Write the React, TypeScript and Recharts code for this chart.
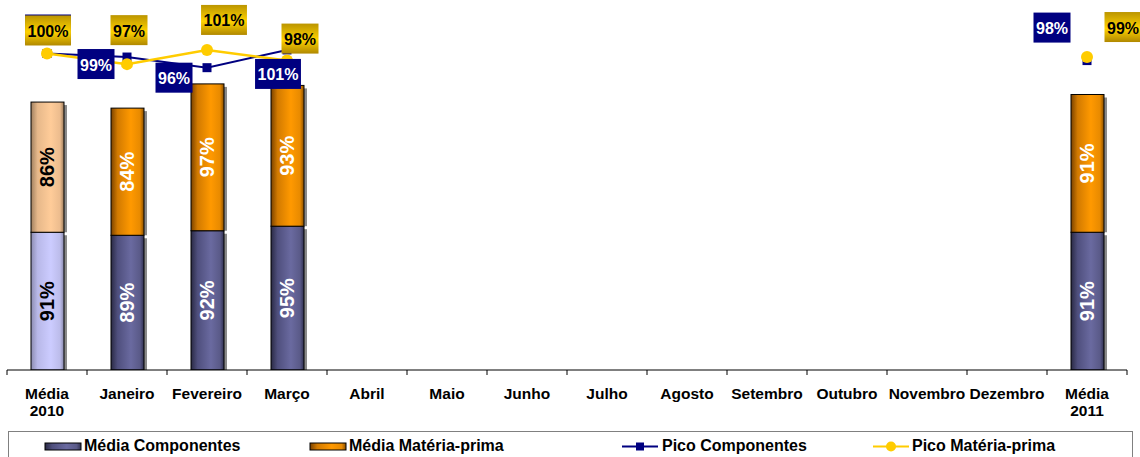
import React from "react";
import { ComposedChart, Bar, Line, XAxis, YAxis, LabelList } from "recharts";

const categories = [
  "Média 2010",
  "Janeiro",
  "Fevereiro",
  "Março",
  "Abril",
  "Maio",
  "Junho",
  "Julho",
  "Agosto",
  "Setembro",
  "Outubro",
  "Novembro",
  "Dezembro",
  "Média 2011",
];
const N = null;
const mediaComponentes = [91, 89, 92, 95, N, N, N, N, N, N, N, N, N, 91];
const mediaMateriaPrima = [86, 84, 97, 93, N, N, N, N, N, N, N, N, N, 91];
const picoComponentes = [100, 99, 96, 101, N, N, N, N, N, N, N, N, N, 98];
const picoMateriaPrima = [100, 97, 101, 98, N, N, N, N, N, N, N, N, N, 99];

// label placement around the points (Excel had them dragged by hand)
const compLabelOffset = [
  [1, -24], [-31, 7], [-33, 10], [-9, 24], [0, 0], [0, 0], [0, 0],
  [0, 0], [0, 0], [0, 0], [0, 0], [0, 0], [0, 0], [-35, -33],
];
const mpLabelOffset = [
  [1, -23], [2, -34], [17, -30], [13, -22], [0, 0], [0, 0], [0, 0],
  [0, 0], [0, 0], [0, 0], [0, 0], [0, 0], [0, 0], [36, -30],
];

const data = categories.map((name, i) => ({
  name,
  mediaComponentes: mediaComponentes[i],
  mediaMateriaPrima: mediaMateriaPrima[i],
  picoComponentes: picoComponentes[i],
  picoMateriaPrima: picoMateriaPrima[i],
}));

const FONT = '"Liberation Sans", Arial, sans-serif';
const NAVY = "#000080";
const GOLD = "#ffcc00";

const barShape = (light: string, normal: string) => (props: any) => {
  const { x, y, width, height, index } = props;
  if (!height || height <= 0 || isNaN(y)) return <g />;
  return (
    <g>
      <rect x={x + width} y={y + 3} width={3} height={height - 3} fill="#8a8a8a" />
      <rect
        x={x}
        y={y}
        width={width}
        height={height}
        fill={index === 0 ? `url(#${light})` : `url(#${normal})`}
        stroke="#000"
        strokeWidth={1}
      />
    </g>
  );
};

const barLabel = (props: any) => {
  const { x, y, width, height, value, index } = props;
  if (value == null || !height) return null;
  const cx = x + width / 2;
  const cy = y + height / 2;
  return (
    <text
      x={cx}
      y={cy}
      transform={`rotate(-90 ${cx} ${cy})`}
      textAnchor="middle"
      dominantBaseline="central"
      fill={index === 0 ? "#000" : "#fff"}
      fontSize={20}
      fontWeight="bold"
      fontFamily={FONT}
    >
      {value}%
    </text>
  );
};

const picoLabel = (offsets: number[][], navy: boolean) => (props: any) => {
  const { x, y, value, index } = props;
  if (value == null || x == null || y == null) return null;
  const [dx, dy] = offsets[index];
  const txt = `${value}%`;
  const w = (txt.length - 1) * 8.9 + 14.2 + 5;
  const h = 30;
  const cx = x + dx;
  const cy = y + dy;
  return (
    <g>
      <rect
        x={cx - w / 2}
        y={cy - h / 2}
        width={w}
        height={h}
        fill={navy ? NAVY : "url(#goldLabel)"}
      />
      <text
        x={cx}
        y={cy + 1}
        textAnchor="middle"
        dominantBaseline="central"
        fill={navy ? "#fff" : "#000"}
        fontSize={16}
        fontWeight="bold"
        fontFamily={FONT}
      >
        {txt}
      </text>
    </g>
  );
};

const squareDot = (p: any) => {
  if (p.cx == null || p.cy == null || p.value == null) return <g key={p.index} />;
  return <rect key={p.index} x={p.cx - 4.5} y={p.cy - 4.5} width={9} height={9} fill={NAVY} />;
};

const circleDot = (p: any) => {
  if (p.cx == null || p.cy == null || p.value == null) return <g key={p.index} />;
  return <circle key={p.index} cx={p.cx} cy={p.cy} r={6} fill={GOLD} />;
};

const CategoryTick = (props: any) => {
  const { x, y, payload, index } = props;
  const label: string = payload.value;
  const lines = label.startsWith("Média") ? label.split(" ") : [label];
  return (
    <g>
      <line x1={x - 40} y1={y} x2={x - 40} y2={y + 5} stroke="#000" />
      {index === categories.length - 1 && (
        <line x1={x + 40} y1={y} x2={x + 40} y2={y + 5} stroke="#000" />
      )}
      {lines.map((l, i) => (
        <text
          key={i}
          x={x}
          y={y + 29 + i * 17}
          textAnchor="middle"
          fontSize={15.5}
          fontWeight="bold"
          fontFamily={FONT}
          fill="#000"
        >
          {l}
        </text>
      ))}
    </g>
  );
};

const Legend = () => (
  <svg
    width={1140}
    height={26}
    style={{ position: "absolute", left: 0, top: 431 }}
    fontFamily={FONT}
  >
    <rect x={8.5} y={0.5} width={1124} height={40} fill="#fff" stroke="#808080" />
    <rect x={45} y={12} width={36} height={7} fill="url(#gradComp)" stroke="#000" />
    <text x={84} y={20} fontSize={16} fontWeight="bold">Média Componentes</text>
    <rect x={310} y={12} width={36} height={7} fill="url(#gradMP)" stroke="#000" />
    <text x={349} y={20} fontSize={16} fontWeight="bold">Média Matéria-prima</text>
    <line x1={622} y1={15.5} x2={658} y2={15.5} stroke={NAVY} strokeWidth={2} />
    <rect x={636} y={11.5} width={8} height={8} fill={NAVY} />
    <text x={662} y={20} fontSize={16} fontWeight="bold">Pico Componentes</text>
    <line x1={873} y1={15.5} x2={909} y2={15.5} stroke={GOLD} strokeWidth={2} />
    <circle cx={891} cy={15.5} r={5} fill={GOLD} />
    <text x={912} y={20} fontSize={16} fontWeight="bold">Pico Matéria-prima</text>
  </svg>
);

export default function App() {
  return (
    <div
      style={{
        position: "absolute",
        left: 0,
        top: 0,
        width: 1140,
        height: 457,
        overflow: "hidden",
        background: "#fff",
      }}
    >
      <svg width={0} height={0} style={{ position: "absolute" }}>
        <defs>
          <linearGradient id="gradComp" x1="0" y1="0" x2="1" y2="0">
            <stop offset="0" stopColor="#2a2a44" />
            <stop offset="0.2" stopColor="#4f4f7d" />
            <stop offset="0.6" stopColor="#6a6aa0" />
            <stop offset="0.88" stopColor="#5a5a88" />
            <stop offset="1" stopColor="#303050" />
          </linearGradient>
          <linearGradient id="gradCompLight" x1="0" y1="0" x2="1" y2="0">
            <stop offset="0" stopColor="#8c8cb0" />
            <stop offset="0.2" stopColor="#b8b8e8" />
            <stop offset="0.6" stopColor="#ccccff" />
            <stop offset="0.88" stopColor="#bcbcea" />
            <stop offset="1" stopColor="#8888aa" />
          </linearGradient>
          <linearGradient id="gradMP" x1="0" y1="0" x2="1" y2="0">
            <stop offset="0" stopColor="#7a4200" />
            <stop offset="0.2" stopColor="#d27a00" />
            <stop offset="0.6" stopColor="#ff9900" />
            <stop offset="0.88" stopColor="#e88a00" />
            <stop offset="1" stopColor="#8a5000" />
          </linearGradient>
          <linearGradient id="gradMPLight" x1="0" y1="0" x2="1" y2="0">
            <stop offset="0" stopColor="#a08060" />
            <stop offset="0.2" stopColor="#e6b88a" />
            <stop offset="0.6" stopColor="#ffcc99" />
            <stop offset="0.88" stopColor="#ecbc8e" />
            <stop offset="1" stopColor="#9c7c5c" />
          </linearGradient>
          <linearGradient id="goldLabel" x1="0" y1="0" x2="0" y2="1">
            <stop offset="0" stopColor="#bb9500" />
            <stop offset="0.55" stopColor="#ffd200" />
            <stop offset="1" stopColor="#b08800" />
          </linearGradient>
        </defs>
      </svg>
      <ComposedChart
        width={1140}
        height={428}
        data={data}
        margin={{ top: 40, right: 13, bottom: 8, left: 7 }}
        barSize={33}
      >
        <XAxis
          dataKey="name"
          interval={0}
          height={50}
          tickSize={0}
          tickMargin={0}
          tickLine={false}
          axisLine={{ stroke: "#000", strokeWidth: 1 }}
          tick={<CategoryTick />}
        />
        <YAxis yAxisId="left" domain={[0, 218]} hide allowDataOverflow />
        <YAxis yAxisId="right" orientation="right" domain={[10.8, 103.8]} hide allowDataOverflow />
        <Bar
          yAxisId="left"
          dataKey="mediaComponentes"
          stackId="m"
          shape={barShape("gradCompLight", "gradComp")}
          isAnimationActive={false}
        >
          <LabelList dataKey="mediaComponentes" content={barLabel} />
        </Bar>
        <Bar
          yAxisId="left"
          dataKey="mediaMateriaPrima"
          stackId="m"
          shape={barShape("gradMPLight", "gradMP")}
          isAnimationActive={false}
        >
          <LabelList dataKey="mediaMateriaPrima" content={barLabel} />
        </Bar>
        <Line
          yAxisId="right"
          dataKey="picoComponentes"
          stroke={NAVY}
          strokeWidth={2}
          dot={squareDot}
          activeDot={false}
          isAnimationActive={false}
        >
          <LabelList dataKey="picoComponentes" content={picoLabel(compLabelOffset, true)} />
        </Line>
        <Line
          yAxisId="right"
          dataKey="picoMateriaPrima"
          stroke={GOLD}
          strokeWidth={2.5}
          dot={circleDot}
          activeDot={false}
          isAnimationActive={false}
        >
          <LabelList dataKey="picoMateriaPrima" content={picoLabel(mpLabelOffset, false)} />
        </Line>
      </ComposedChart>
      <Legend />
    </div>
  );
}
